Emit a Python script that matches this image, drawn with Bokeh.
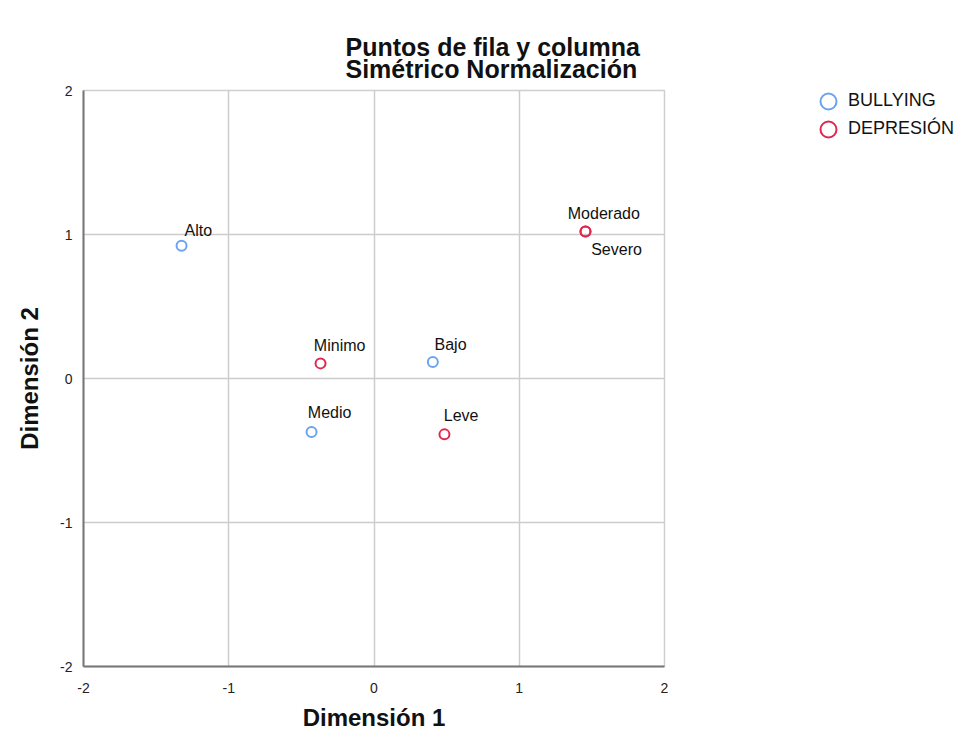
from bokeh.plotting import figure
from bokeh.layouts import row
from bokeh.models import ColumnDataSource, FixedTicker, Legend, LegendItem, Title, Range1d
from bokeh.core.properties import value
from bokeh.embed import file_html
from bokeh.resources import INLINE

# ---- data ----
bully_cats = ["Alto", "Medio", "Bajo"]
bully_d1 = [-1.325, -0.430, 0.405]
bully_d2 = [0.922, -0.372, 0.114]

dep_cats = ["Minimo", "Leve", "Moderado", "Severo"]
dep_d1 = [-0.368, 0.485, 1.456, 1.456]
dep_d2 = [0.105, -0.388, 1.021, 1.021]

ticks = [-2, -1, 0, 1, 2]
tick_labels = ["-2", "-1", "0", "1", "2"]
series_names = ["BULLYING", "DEPRESIÓN"]
title_lines = ["Puntos de fila y columna", "Simétrico Normalización"]

# label offsets (screen px) per category - styling only
label_dx = {"Alto": 3, "Medio": -3.7, "Bajo": 1.7, "Minimo": -6.7, "Leve": -0.7,
            "Moderado": -17.7, "Severo": 5.7}
label_dy = {"Alto": -15.7, "Medio": -19.3, "Bajo": -18, "Minimo": -17.6, "Leve": -18.4,
            "Moderado": -17.7, "Severo": 17.6}

BLUE = "#6aa4f0"
RED = "#e0284f"
FONT = "Liberation Sans"
MAIN_W = 674
TOTAL_W = 956
H = 733
FRAME_BOTTOM = 669

p = figure(width=MAIN_W, height=H, output_backend="svg", toolbar_location=None,
           title=None,
           x_range=Range1d(-2, 2), y_range=Range1d(-2, 2),
           min_border_left=83, min_border_right=10, min_border_top=90,
           min_border_bottom=H - FRAME_BOTTOM)
p.background_fill_color = "white"
p.border_fill_color = "white"
p.outline_line_color = "#cfcfcf"
p.outline_line_width = 1.5

for ax in (p.xaxis[0], p.yaxis[0]):
    ax.ticker = FixedTicker(ticks=ticks)
    ax.major_label_overrides = {t: s for t, s in zip(ticks, tick_labels)}
    ax.axis_line_color = "#777777"
    ax.axis_line_width = 2
    ax.major_tick_out = 0
    ax.major_tick_in = 0
    ax.minor_tick_out = 0
    ax.minor_tick_in = 0
    ax.major_label_text_font = FONT
    ax.major_label_text_font_size = "14px"
    ax.major_label_text_color = "#222222"
    ax.axis_label_text_font = FONT
    ax.axis_label_text_font_size = "24px"
    ax.axis_label_text_font_style = "bold"
    ax.axis_label_text_color = "#111111"

p.xaxis.axis_label = "Dimensión 1"
p.yaxis.axis_label = "Dimensión 2"
p.xaxis.major_label_standoff = 16
p.yaxis.major_label_standoff = 11
p.xaxis.axis_label_standoff = 8
p.yaxis.axis_label_standoff = 14

p.grid.ticker = FixedTicker(ticks=ticks)
p.grid.grid_line_color = "#cccccc"
p.grid.grid_line_width = 1.5

bsrc = ColumnDataSource(dict(x=bully_d1, y=bully_d2, t=bully_cats,
                             dx=[label_dx[c] for c in bully_cats],
                             dy=[label_dy[c] for c in bully_cats]))
dsrc = ColumnDataSource(dict(x=dep_d1, y=dep_d2, t=dep_cats,
                             dx=[label_dx[c] for c in dep_cats],
                             dy=[label_dy[c] for c in dep_cats]))

marker_kw = dict(marker="circle", size=10, fill_color="white", fill_alpha=0, line_width=2)
p.scatter("x", "y", source=bsrc, line_color=BLUE, **marker_kw)
p.scatter("x", "y", source=dsrc, line_color=RED, **marker_kw)

for src in (bsrc, dsrc):
    p.text("x", "y", text="t", source=src, x_offset="dx", y_offset="dy",
           text_font=value(FONT), text_font_size="16px", text_color="#111111",
           text_align="left", text_baseline="middle")

title = Title(text="\n".join(title_lines), align="left", offset=262,
              text_font=FONT, text_font_size="25px", text_font_style="bold",
              text_color="#111111", text_line_height=0.775, standoff=15)
p.add_layout(title, "above")

# ---- legend panel (separate figure to the right; its frame is aligned with p's) ----
q = figure(width=TOTAL_W - MAIN_W, height=H, output_backend="svg", toolbar_location=None,
           title=None, x_axis_location=None, y_axis_location=None,
           x_range=Range1d(100, 101), y_range=Range1d(100, 101),
           min_border_left=0, min_border_right=0, min_border_top=0, min_border_bottom=0)
q.outline_line_color = None
q.grid.visible = False
q.background_fill_color = "white"
q.border_fill_color = "white"

# same data, outside q's ranges: only their legend glyphs show
lb = q.scatter("x", "y", source=bsrc, line_color=BLUE, **marker_kw)
ld = q.scatter("x", "y", source=dsrc, line_color=RED, **marker_kw)

GLYPH = 40
leg_kw = dict(orientation="vertical", glyph_width=GLYPH, glyph_height=GLYPH, padding=0, margin=0,
              label_standoff=0, label_text_font=FONT, label_text_font_size="18px",
              label_text_color="#111111", border_line_color=None, background_fill_alpha=0,
              label_text_baseline="middle")
leg1 = Legend(items=[LegendItem(label=series_names[0], renderers=[lb])],
              location=(134, FRAME_BOTTOM - 83.7 - GLYPH), **leg_kw)
leg2 = Legend(items=[LegendItem(label=series_names[1], renderers=[ld])],
              location=(134, FRAME_BOTTOM - 111.8 - GLYPH), **leg_kw)
q.add_layout(leg1, "center")
q.add_layout(leg2, "center")

layout = row(p, q, spacing=0)
open("out.html", "w").write(file_html(layout, INLINE))
